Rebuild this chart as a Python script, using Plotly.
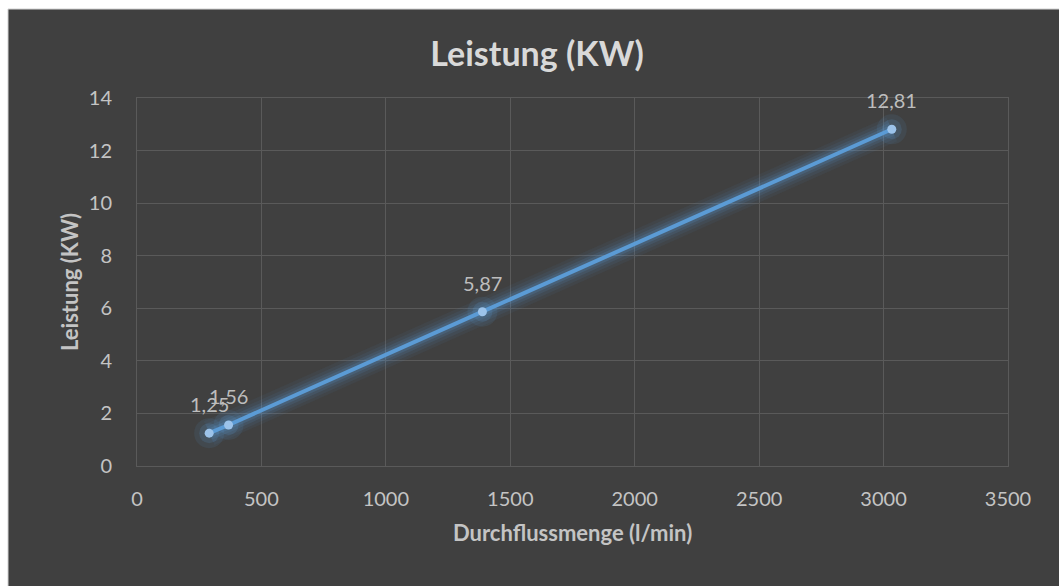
import plotly.graph_objects as go

# Flow rate (l/min) and power (kW)
durchfluss = [290, 368, 1388, 3033]
leistung = [1.25, 1.56, 5.87, 12.81]

x_ticks = [0, 500, 1000, 1500, 2000, 2500, 3000, 3500]
y_ticks = [0, 2, 4, 6, 8, 10, 12, 14]

BG = "#404040"
GRID = "#5a5a5a"
TICK = "#c4c4c4"
TITLE = "#d9d9d9"
LINE = "#5b9bd5"
FONT = "Lato"

fig = go.Figure()

# soft glow under the line
for w, a in [(26, 0.06), (20, 0.08), (14, 0.12), (9, 0.18)]:
    fig.add_trace(go.Scatter(
        x=durchfluss, y=leistung, mode="lines",
        line=dict(color=f"rgba(91,155,213,{a})", width=w),
        hoverinfo="skip", showlegend=False))

# glow around the markers
for s, a in [(30, 0.10), (20, 0.16)]:
    fig.add_trace(go.Scatter(
        x=durchfluss, y=leistung, mode="markers",
        marker=dict(color=f"rgba(91,155,213,{a})", size=s, line=dict(width=0)),
        hoverinfo="skip", showlegend=False))

fig.add_trace(go.Scatter(
    x=durchfluss, y=leistung, mode="lines+markers",
    line=dict(color=LINE, width=4),
    marker=dict(color="#9cc3ea", size=9, line=dict(width=0)),
    showlegend=False))

# value labels with comma decimals
for xv, yv in zip(durchfluss, leistung):
    fig.add_annotation(
        x=xv, y=yv, xref="x", yref="y",
        text=f"{yv:.2f}".replace(".", ","),
        showarrow=False, yshift=29,
        font=dict(family=FONT, size=20, color="#bdbdbd"))

# axis titles
fig.add_annotation(
    x=0.5, y=-0.182, xref="paper", yref="paper",
    text="<b>Durchflussmenge (l/min)</b>", showarrow=False,
    xanchor="center", yanchor="middle",
    font=dict(family=FONT, size=22, color=TICK))
fig.add_annotation(
    x=-0.078, y=0.5, xref="paper", yref="paper",
    text="<b>Leistung (KW)</b>", showarrow=False, textangle=-90,
    xanchor="center", yanchor="middle",
    font=dict(family=FONT, size=22, color=TICK))

# dark chart area with a thin light border
fig.add_shape(
    type="rect", xref="paper", yref="paper",
    x0=-0.1481, x1=1.2, y0=-0.5, y1=1.2418,
    fillcolor=BG, line=dict(color="#d0d0d0", width=1), layer="below")

fig.update_layout(
    width=1059, height=586,
    margin=dict(l=137, r=51, t=98, b=120),
    paper_bgcolor="white",
    plot_bgcolor="rgba(0,0,0,0)",
    title=dict(
        text="<b>Leistung (KW)</b>",
        x=537 / 1059, y=1 - 54 / 586, xref="container", yref="container",
        xanchor="center", yanchor="middle",
        font=dict(family=FONT, size=34, color=TITLE)),
    font=dict(family=FONT, color=TICK),
)

fig.update_xaxes(
    range=[0, 3500], tickvals=x_ticks, ticktext=[str(v) for v in x_ticks],
    showgrid=True, gridcolor=GRID, gridwidth=1,
    showline=True, linecolor=GRID, linewidth=1, mirror=True,
    zeroline=False, ticks="", ticklabelstandoff=15,
    tickfont=dict(family=FONT, size=20, color=TICK))
fig.update_yaxes(
    range=[0, 14], tickvals=y_ticks, ticktext=[str(v) for v in y_ticks],
    showgrid=True, gridcolor=GRID, gridwidth=1,
    showline=True, linecolor=GRID, linewidth=1, mirror=True,
    zeroline=False, ticks="", ticklabelstandoff=20,
    tickfont=dict(family=FONT, size=20, color=TICK))

fig.write_html("out.html")
